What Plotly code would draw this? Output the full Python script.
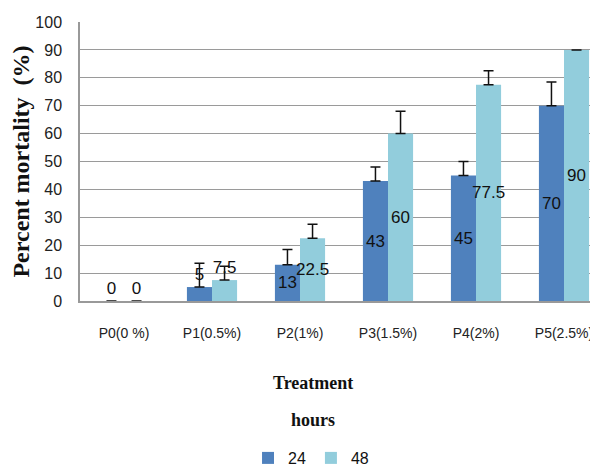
import plotly.graph_objects as go

categories = ["P0(0 %)", "P1(0.5%)", "P2(1%)", "P3(1.5%)", "P4(2%)", "P5(2.5%)"]
mort_24 = [0, 5, 13, 43, 45, 70]
mort_48 = [0, 7.5, 22.5, 60, 77.5, 90]
err_24 = [None, 8.5, 5.5, 5, 5, 8.5]
err_48 = [None, 5, 5, 8, 5, 0]
series_names = ["24", "48"]
y_ticks = [0, 10, 20, 30, 40, 50, 60, 70, 80, 90, 100]

SANS = "Liberation Sans, Arial, sans-serif"
SERIF = "Liberation Serif, Times New Roman, serif"

def positions(vals):
    return ["outside" if v < 10 else "inside" for v in vals]

fig = go.Figure()
for name, vals, errs, color in [
    (series_names[0], mort_24, err_24, "#4F81BD"),
    (series_names[1], mort_48, err_48, "#92CDDC"),
]:
    fig.add_trace(go.Bar(
        x=categories, y=vals, name=name,
        marker=dict(color=color, line=dict(width=0)),
        text=[f"{v:g}" for v in vals],
        textposition=positions(vals),
        insidetextanchor="middle",
        textangle=0,
        textfont=dict(family=SANS, size=17, color="#111"),
        error_y=dict(type="data", array=errs, arrayminus=[0] * len(errs),
                     symmetric=False, color="#111", thickness=1.5, width=5),
    ))

# page has an 8px body margin: figure is 590x460 so it fits the 598x468 window
fig.update_layout(
    width=590, height=460,
    margin=dict(l=72, r=0, t=14, b=167, autoexpand=False),
    paper_bgcolor="white", plot_bgcolor="white",
    barmode="group", bargap=0.43, bargroupgap=0,
    uniformtext=dict(minsize=17, mode="show"),
    showlegend=True,
    legend=dict(orientation="h", x=0.446, xanchor="center", y=(301 - 441) / 279, yanchor="top",
                font=dict(family=SANS, size=16, color="#111"),
                itemwidth=30, tracegroupgap=0, bgcolor="rgba(0,0,0,0)"),
    annotations=[
        dict(text="<b>Treatment</b>", x=(313 - 80) / 518, y=(301 - 383) / 279,
             xref="paper", yref="paper", showarrow=False, xanchor="center", yanchor="middle",
             font=dict(family=SERIF, size=18, color="#111")),
        dict(text="<b>hours</b>", x=(313 - 80) / 518, y=(301 - 420) / 279,
             xref="paper", yref="paper", showarrow=False, xanchor="center", yanchor="middle",
             font=dict(family=SERIF, size=18, color="#111")),
    ],
)

fig.update_xaxes(
    type="category", range=[-0.5, -0.5 + 518 / 88],
    showline=True, linecolor="#999", linewidth=1.5,
    showgrid=False, ticks="", ticklabelstandoff=18,
    tickfont=dict(family=SANS, size=14, color="#222"),
)
fig.update_yaxes(
    range=[0, 100], tickvals=y_ticks,
    showline=True, linecolor="#999", linewidth=1.5,
    showgrid=True, gridcolor="#9a9a9a", gridwidth=1.3,
    ticks="", ticklabelstandoff=13,
    tickfont=dict(family=SANS, size=16, color="#222"),
    title=dict(text="<b>Percent mortality\u00a0\u00a0(%)</b>", standoff=4,
               font=dict(family=SERIF, size=24, color="#111")),
    zeroline=False,
)

fig.write_html("out.html")
